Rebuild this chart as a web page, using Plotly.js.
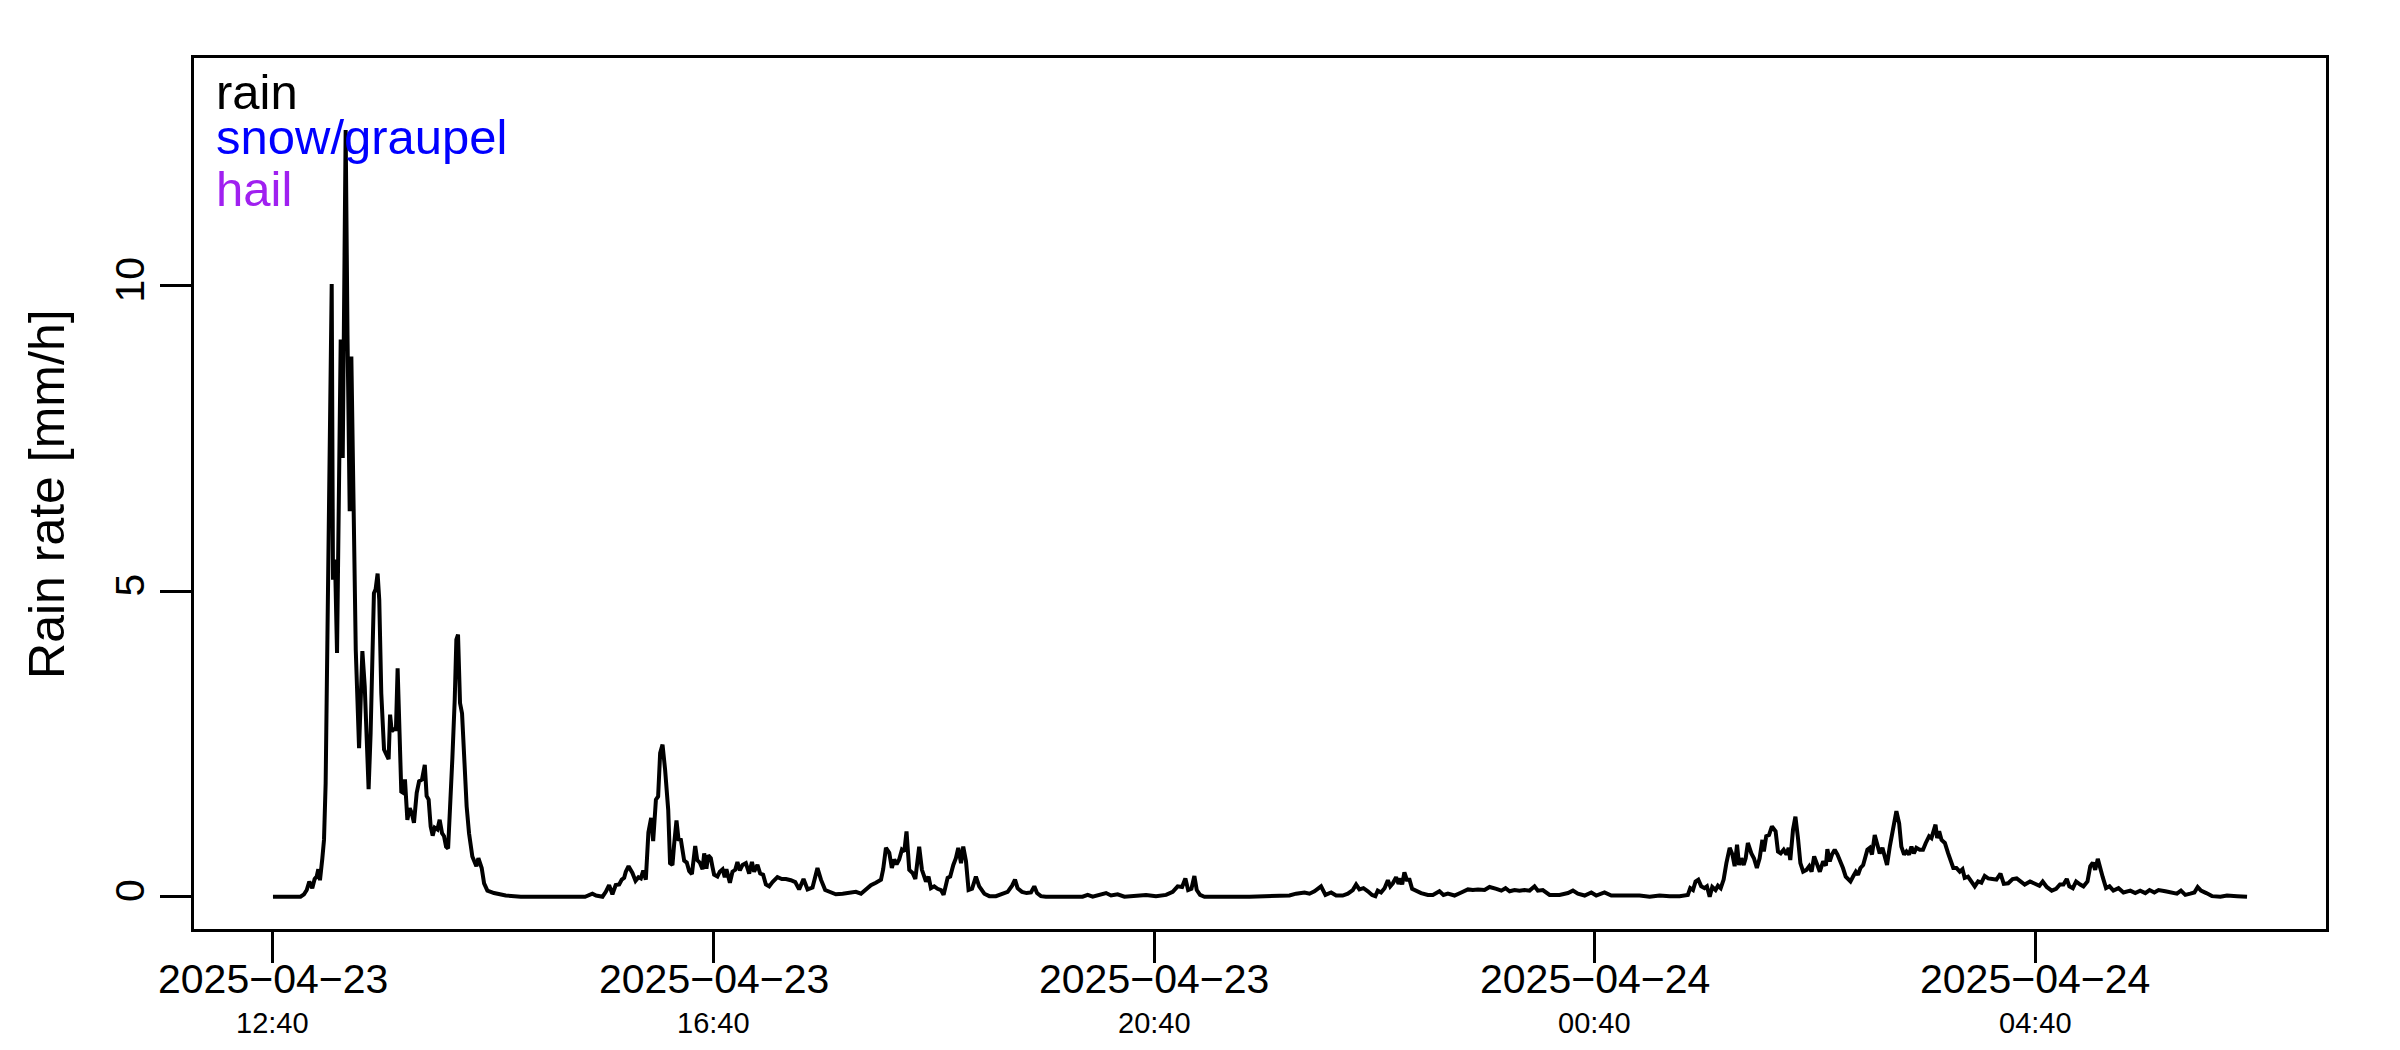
<!DOCTYPE html>
<html>
<head>
<meta charset="utf-8">
<script src="https://cdn.plot.ly/plotly-3.0.1.min.js"></script>
<style>html,body{margin:0;padding:0;background:#ffffff;}</style>
</head>
<body>
<div id="chart" style="width:2400px;height:1050px;"></div>
<script>
// ---- data ----
const startTime = '2025-04-23T12:40:00Z';
// minutes after 2025-04-23 12:40
const minutesFromStart = [
 0,15,16.9,18.4,19.8,21.4,22.7,23.8,24.7,25.6,26.9,27.8,28.7,29.6,30.5,31.3,32.0,32.7,33.8,34.9,36.0,36.9,38.0,38.8,39.6,40.6,41.8,42.7,43.8,45.1,46.9,47.8,48.7,50.0,51.0,52.1,53.2,54.3,55.0,55.9,57.0,57.9,59.0,60.5,61.9,63.0,63.8,64.7,65.9,67.0,67.9,68.9,69.9,71.0,71.9,73.2,74.5,75.6,76.8,78.3,79.6,81.2,82.7,83.7,84.8,85.9,87.0,88.1,89.6,90.8,92.1,93.2,94.3,95.4,96.5,97.7,99.0,99.9,100.8,101.9,103.0,104.1,105.5,106.8,108.6,110.8,111.9,113.7,115.0,116.8,120.4,126.8,135,170,
 174.0,176,179.5,181.3,183.1,184.9,186.7,188.6,190.0,191.3,192.2,193.7,195.8,197.5,199.1,200.4,201.7,203.1,204.5,206.0,207.1,208.6,209.8,210.9,212.2,213.6,215.3,216.3,217.6,218.5,219.8,220.9,222.2,224.0,225.4,226.7,228.2,230.0,231.1,232.5,234.0,234.9,236.1,237.1,238.5,239.4,240.3,242.1,243.4,244.9,246.1,247.0,248.9,250.3,251.8,253.0,254.3,255.8,257.6,259.4,260.9,262.1,263.9,265.4,267.0,268.5,270.3,272.1,274.8,277.2,279.4,282.1,284.5,286.6,289.0,291.2,293.9,296.6,298.5,300.8,303.9,306.6,310.3,313.9,317.5,320.3,323.0,325.7,328.4,331.2,332.4,333.9,335.7,337.1,338.4,339.7,341.1,
 342.6,343.9,345.1,346.6,348.4,349.9,352.0,353.5,355.7,357.1,358.4,360.2,362.0,363.9,365.3,367.5,368.9,370.6,372.0,373.3,374.8,376.0,377.5,378.9,380.8,382.9,384.7,387.5,390.2,393.8,397.4,400.2,402.6,404.2,405.6,408.0,410.5,412.9,414.7,416.2,418.3,421,441,443.8,446.5,450.1,453.8,456.5,460.1,463.8,475.6,481.0,486.5,490.1,492.8,495.2,497.0,498.5,500.3,501.9,503.2,505.0,507.4,532,
 544.6,553.7,557.3,561.9,564.6,567.3,570.9,573.3,576.4,579.1,582.7,585.5,588.2,590.0,591.8,594.0,596.4,598.7,600.5,601.8,603.6,605.5,607.3,608.6,610.0,611.8,613.1,614.3,615.1,616.3,617.6,619.1,620.5,622.7,625.4,629.1,631.8,635.4,637.6,640.0,643.6,647.3,650.9,653.6,656.4,660.0,662.7,666.4,669.1,671.4,673.6,676.3,679.0,681.7,684.5,687.2,689.0,691.7,695.4,700.8,705.4,708.1,710.8,714.5,718.1,720.8,725.3,729.0,
 733.5,739.0,744.4,749.9,755.3,760.8,766.2,770.7,772.0,773.5,774.9,776.4,778.0,779.8,781.1,782.6,784.0,785.8,787.1,788.6,790.2,791.7,793.5,795.0,796.2,797.5,798.6,799.8,801.1,802.2,803.4,805.3,806.7,808.3,809.8,811.3,812.1,813.4,814.9,816.5,818.5,819.8,821.3,822.9,824.4,825.6,826.5,828.0,829.3,830.7,832.0,833.5,835.3,836.8,838.1,839.5,840.8,842.6,844.4,845.9,846.7,848.0,849.2,850.7,852.2,853.8,855.2,856.7,858.0,859.3,860.7,862.2,863.4,864.7,866.2,867.6,868.5,869.8,871.0,872.5,873.8,875.2,876.7,877.9,879.2,880.7,882.5,884.3,885.8,887.0,888.5,889.8,891.2,892.5,893.8,895.2,897.0,898.8,900.3,902.1,903.4,904.3,905.6,906.5,907.6,908.9,910.7,912.5,
 913.8,915.3,917.0,918.8,920.3,921.5,923.3,925.2,927.0,928.8,930.6,932.4,934.3,936.6,938.8,941.0,942.8,945.2,947.6,949.8,952.0,954.2,957.1,959.8,962.2,964.0,966.2,968.9,971.3,973.4,975.3,977.1,978.5,980.4,982.2,984.4,986.2,988.4,989.9,991.3,992.6,994.0,995.3,996.7,998.5,1000.4,1002.5,1005.3,1008.0,1011.7,1014.4,1017.1,1019.9,1022.2,1024.8,1027.1,1030.8,1034.4,1037.1,1039.3,1041.7,1044.4,1046.6,1048.4,1050.2,1053.1,1056.2,1060.8,1064.4,1069.9,1075.3
];
// rain rate [mm/h]
const rainRate = [
 0,0,0.04,0.11,0.25,0.14,0.29,0.33,0.45,0.27,0.63,0.93,1.86,4.32,6.6,8.6,10.03,5.19,5.52,3.99,7.0,9.12,7.18,9.6,12.55,9.2,6.31,8.84,6.5,4.04,2.43,3.28,4.02,3.44,2.68,1.76,2.68,4.21,4.97,5.03,5.29,4.86,3.33,2.41,2.33,2.25,2.98,2.71,2.74,2.74,3.74,2.68,1.72,1.7,1.92,1.26,1.45,1.37,1.21,1.7,1.89,1.92,2.16,1.65,1.59,1.15,1.0,1.13,1.1,1.26,1.04,0.99,0.82,0.79,1.7,2.25,3.22,4.21,4.29,3.17,3.0,2.35,1.48,1.04,0.66,0.5,0.63,0.47,0.22,0.1,0.06,0.02,0,0,
 0.05,0.02,0,0.08,0.19,0.04,0.19,0.2,0.28,0.31,0.41,0.5,0.39,0.26,0.32,0.3,0.43,0.28,1.05,1.29,0.91,1.59,1.64,2.35,2.49,2.08,1.42,0.55,0.52,0.85,1.25,0.94,0.93,0.59,0.56,0.42,0.37,0.83,0.6,0.56,0.45,0.71,0.46,0.68,0.63,0.49,0.36,0.33,0.41,0.45,0.32,0.45,0.23,0.41,0.44,0.57,0.43,0.52,0.55,0.38,0.57,0.41,0.52,0.38,0.36,0.2,0.17,0.24,0.32,0.29,0.29,0.27,0.24,0.12,0.29,0.12,0.15,0.47,0.28,0.11,0.08,0.04,0.05,0.07,0.08,0.05,0.13,0.19,0.23,0.28,0.45,0.8,0.72,0.47,0.61,0.53,0.61,
 0.77,0.74,1.07,0.44,0.39,0.29,0.82,0.44,0.25,0.33,0.14,0.17,0.13,0.11,0.03,0.31,0.33,0.52,0.63,0.8,0.55,0.82,0.58,0.11,0.13,0.33,0.17,0.05,0.01,0.01,0.04,0.08,0.18,0.28,0.14,0.08,0.06,0.07,0.17,0.06,0.01,0,0,0.03,0,0.03,0.06,0.02,0.04,0,0.03,0.01,0.03,0.08,0.17,0.16,0.3,0.11,0.13,0.34,0.11,0.03,0,0,
 0.02,0.02,0.05,0.07,0.05,0.09,0.17,0.03,0.07,0.02,0.02,0.05,0.11,0.2,0.12,0.14,0.09,0.03,0.01,0.1,0.07,0.14,0.27,0.17,0.22,0.32,0.21,0.3,0.2,0.4,0.28,0.28,0.13,0.09,0.06,0.03,0.03,0.09,0.03,0.05,0.02,0.07,0.12,0.11,0.12,0.11,0.16,0.13,0.1,0.14,0.09,0.11,0.1,0.11,0.1,0.17,0.1,0.11,0.03,0.03,0.06,0.1,0.05,0.02,0.07,0.02,0.07,0.02,
 0.02,0.03,0.02,0,0.02,0.01,0.01,0.03,0.14,0.11,0.25,0.28,0.17,0.14,0.17,0.0,0.16,0.11,0.18,0.14,0.28,0.55,0.8,0.69,0.5,0.85,0.52,0.63,0.52,0.63,0.88,0.71,0.63,0.47,0.63,0.93,0.74,0.99,1.01,1.15,1.07,0.74,0.71,0.77,0.69,0.8,0.6,1.1,1.31,0.96,0.55,0.41,0.44,0.5,0.41,0.66,0.55,0.41,0.58,0.51,0.78,0.58,0.69,0.77,0.69,0.58,0.47,0.33,0.3,0.25,0.33,0.41,0.36,0.47,0.52,0.66,0.77,0.8,0.69,1.01,0.88,0.71,0.8,0.63,0.52,0.82,1.15,1.4,1.2,0.82,0.69,0.74,0.69,0.82,0.71,0.8,0.77,0.77,0.88,0.99,0.96,1.07,1.18,0.96,1.07,0.93,0.88,0.71,
 0.6,0.47,0.47,0.41,0.45,0.31,0.33,0.25,0.17,0.25,0.23,0.34,0.3,0.29,0.28,0.38,0.21,0.22,0.29,0.3,0.25,0.2,0.25,0.22,0.18,0.25,0.16,0.1,0.13,0.2,0.2,0.29,0.17,0.14,0.25,0.2,0.17,0.25,0.5,0.56,0.44,0.62,0.45,0.32,0.14,0.17,0.1,0.14,0.07,0.1,0.06,0.1,0.06,0.11,0.07,0.11,0.09,0.07,0.05,0.1,0.03,0.05,0.07,0.16,0.1,0.06,0.01,0,0.02,0.01,0
];
const tickTimes = ['2025-04-23 12:40','2025-04-23 16:40','2025-04-23 20:40','2025-04-24 00:40','2025-04-24 04:40'];
const tickDates = ['2025\u221204\u221223','2025\u221204\u221223','2025\u221204\u221223','2025\u221204\u221224','2025\u221204\u221224'];
const tickClock = ['12:40','16:40','20:40','00:40','04:40'];
const yTicks = [0, 5, 10];
const yLimit = [0, 13.2];
const legendLabels = ['rain', 'snow/graupel', 'hail'];
const legendColors = ['#000000', '#0000FF', '#A020F0'];
const yTitle = 'Rain rate [mm/h]';

// ---- build ----
const baseMs = Date.parse(startTime);
function fmt(ms) { return new Date(ms).toISOString().replace('T', ' ').replace('Z', ''); }
const xTimes = minutesFromStart.map(m => fmt(baseMs + m * 60000));
const minM = Math.min(...minutesFromStart), maxM = Math.max(...minutesFromStart);
const padM = 0.04 * (maxM - minM);
const xRange = [fmt(baseMs + (minM - padM) * 60000), fmt(baseMs + (maxM + padM) * 60000)];
const ySpan = yLimit[1] - yLimit[0];
const yRange = [yLimit[0] - 0.04 * ySpan, yLimit[1] + 0.04 * ySpan];

const FONT = '"Liberation Sans", Arial, Helvetica, sans-serif';

const traces = [{
  type: 'scatter', mode: 'lines', x: xTimes, y: rainRate,
  line: {color: '#000000', width: 4}, hoverinfo: 'skip', showlegend: false
}];

const annotations = [];
tickTimes.forEach((t, i) => {
  annotations.push({
    xref: 'x', yref: 'paper', x: t, y: -0.0569, xanchor: 'center', yanchor: 'middle',
    text: tickDates[i], showarrow: false, font: {family: FONT, size: 41, color: '#000'}
  });
  annotations.push({
    xref: 'x', yref: 'paper', x: t, y: -0.108, xanchor: 'center', yanchor: 'middle',
    text: tickClock[i], showarrow: false, font: {family: FONT, size: 29, color: '#000'}
  });
});
const legendY = [0.961, 0.909, 0.8496];
legendLabels.forEach((lab, i) => annotations.push({
  xref: 'paper', yref: 'paper', x: 0.0095, y: legendY[i], xanchor: 'left', yanchor: 'middle',
  text: lab, showarrow: false, font: {family: FONT, size: 49, color: legendColors[i]}
}));
annotations.push({
  xref: 'paper', yref: 'paper', x: -0.0692, y: 0.5, xanchor: 'center', yanchor: 'middle',
  text: yTitle, textangle: -90, showarrow: false, font: {family: FONT, size: 50, color: '#000'}
});

const layout = {
  width: 2400, height: 1050,
  margin: {l: 194, r: 74, t: 58, b: 121, pad: 0},
  paper_bgcolor: '#ffffff', plot_bgcolor: '#ffffff',
  showlegend: false,
  font: {family: FONT, color: '#000000'},
  xaxis: {
    type: 'date', range: xRange, tickmode: 'array', tickvals: tickTimes, ticktext: tickDates,
    showticklabels: false,
    ticks: 'outside', ticklen: 31, tickwidth: 3, tickcolor: '#000',
    showline: true, mirror: true, linewidth: 3, linecolor: '#000',
    showgrid: false, zeroline: false, fixedrange: true
  },
  yaxis: {
    range: yRange, tickmode: 'array', tickvals: yTicks, ticktext: yTicks.map(String),
    tickangle: -90, tickfont: {family: FONT, size: 41, color: '#000'},
    ticks: 'outside', ticklen: 31, tickwidth: 3, tickcolor: '#000',
    showline: true, mirror: true, linewidth: 3, linecolor: '#000',
    showgrid: false, zeroline: false, fixedrange: true
  },
  annotations: annotations
};

Plotly.newPlot('chart', traces, layout, {displayModeBar: false, staticPlot: true});
</script>
</body>
</html>
